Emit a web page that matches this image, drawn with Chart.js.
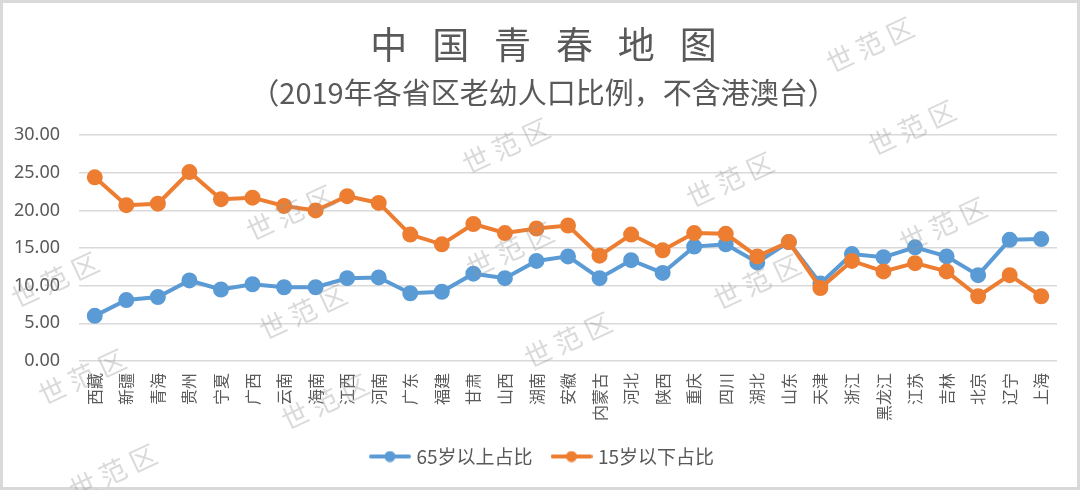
<!DOCTYPE html>
<html>
<head>
<meta charset="utf-8">
<script src="https://cdn.jsdelivr.net/npm/chart.js@4.4.1/dist/chart.umd.min.js"></script>
<style>
  html, body { margin: 0; padding: 0; background: #fff; }
  #wrap { width: 1080px; height: 490px; }
</style>
</head>
<body>
<div id="wrap"><canvas id="youthChart" width="1080" height="490"></canvas></div>
<script>
const provinces = ['西藏', '新疆', '青海', '贵州', '宁夏', '广西', '云南', '海南', '江西', '河南',
  '广东', '福建', '甘肃', '山西', '湖南', '安徽', '内蒙古', '河北', '陕西', '重庆',
  '四川', '湖北', '山东', '天津', '浙江', '黑龙江', '江苏', '吉林', '北京', '辽宁', '上海'];
const over65 = [6.0, 8.1, 8.5, 10.7, 9.5, 10.2, 9.8, 9.8, 11.0, 11.1,
  9.0, 9.2, 11.6, 11.0, 13.3, 13.9, 11.0, 13.4, 11.7, 15.2,
  15.5, 13.1, 15.8, 10.3, 14.2, 13.8, 15.1, 13.9, 11.4, 16.1, 16.2];
const under15 = [24.4, 20.7, 20.9, 25.1, 21.5, 21.7, 20.6, 20.0, 21.9, 21.0,
  16.8, 15.5, 18.2, 17.0, 17.6, 18.0, 14.0, 16.8, 14.7, 17.0,
  16.9, 13.9, 15.8, 9.7, 13.3, 11.9, 13.0, 11.9, 8.6, 11.4, 8.6];
const yTicks = [0, 5, 10, 15, 20, 25, 30];

const BLUE = '#5B9BD5';
const ORANGE = '#ED7D31';
const GREY_TEXT = '#595959';
const CJK = "'Noto Sans CJK SC', 'Noto Sans', sans-serif";

// legend marker: short line with a dot in the middle
function legendMarker(color) {
  const c = document.createElement('canvas');
  c.width = 42; c.height = 12;
  const g = c.getContext('2d');
  g.strokeStyle = color;
  g.lineWidth = 4;
  g.lineCap = 'round';
  g.beginPath(); g.moveTo(2, 6); g.lineTo(40, 6); g.stroke();
  g.fillStyle = color;
  g.beginPath(); g.arc(21, 6, 5.5, 0, Math.PI * 2); g.fill();
  return c;
}

// background + outer border
const frame = {
  id: 'frame',
  beforeDraw(chart) {
    const ctx = chart.ctx;
    ctx.save();
    ctx.fillStyle = '#fff';
    ctx.fillRect(0, 0, chart.width, chart.height);
    ctx.strokeStyle = '#d9d9d9';
    ctx.lineWidth = 3;
    ctx.strokeRect(1.5, 1.5, chart.width - 3, chart.height - 3);
    ctx.restore();
  }
};

// titles and legend sit a little right of the canvas centre in the original
const nudge = {
  id: 'nudge',
  afterLayout(chart) {
    chart.boxes.forEach(b => {
      if (!(b instanceof Chart.Scale)) { b.left += 8; b.right += 8; }
    });
  }
};

// watermark text scattered over the picture
const marks = [[870, 45], [506, 146], [912, 128], [730, 180], [290, 213], [943, 225],
  [55, 280], [510, 250], [757, 282], [303, 312], [568, 340], [82, 377], [325, 402], [113, 472]];
const watermark = {
  id: 'watermark',
  afterDraw(chart) {
    const ctx = chart.ctx;
    ctx.save();
    ctx.fillStyle = 'rgba(150,150,150,0.35)';
    ctx.font = '27px ' + CJK;
    ctx.textAlign = 'center';
    ctx.textBaseline = 'middle';
    marks.forEach(([x, y]) => {
      ctx.save();
      ctx.translate(x, y);
      ctx.rotate(-25 * Math.PI / 180);
      ctx.fillText('世 范 区', 0, 0);
      ctx.restore();
    });
    ctx.restore();
  }
};

const ctx = document.getElementById('youthChart').getContext('2d');
const youthChart = new Chart(ctx, {
  type: 'line',
  data: {
    labels: provinces,
    datasets: [
      {
        label: '65岁以上占比',
        data: over65,
        borderColor: BLUE,
        backgroundColor: BLUE,
        borderWidth: 4,
        pointRadius: 6,
        pointHoverRadius: 6,
        tension: 0,
        order: 1
      },
      {
        label: '15岁以下占比',
        data: under15,
        borderColor: ORANGE,
        backgroundColor: ORANGE,
        borderWidth: 4,
        pointRadius: 6,
        pointHoverRadius: 6,
        tension: 0,
        order: 0
      }
    ]
  },
  options: {
    responsive: false,
    animation: false,
    layout: { padding: { left: 14, right: 23, top: 0, bottom: 14 } },
    plugins: {
      title: {
        display: true,
        text: '中   国   青   春   地   图',
        color: GREY_TEXT,
        font: { family: CJK, size: 37, weight: 'normal' },
        padding: { top: 23, bottom: 8 }
      },
      subtitle: {
        display: true,
        text: '（2019年各省区老幼人口比例，不含港澳台）',
        color: GREY_TEXT,
        font: { family: CJK, size: 29, weight: 'normal' },
        padding: { top: 0, bottom: 25 }
      },
      legend: {
        position: 'bottom',
        labels: {
          usePointStyle: true,
          pointStyleWidth: 34,
          color: GREY_TEXT,
          font: { family: CJK, size: 19 },
          padding: 22,
          sort: (a, b) => a.datasetIndex - b.datasetIndex,
          generateLabels(chart) {
            const items = Chart.defaults.plugins.legend.labels.generateLabels(chart);
            items.forEach(it => {
              it.pointStyle = legendMarker(it.datasetIndex === 0 ? BLUE : ORANGE);
            });
            return items;
          }
        }
      },
      tooltip: { enabled: false }
    },
    scales: {
      x: {
        offset: true,
        grid: { display: false },
        border: { display: false },
        ticks: {
          autoSkip: false,
          maxRotation: 90,
          minRotation: 90,
          color: GREY_TEXT,
          padding: 4,
          font: { family: CJK, size: 16 }
        }
      },
      y: {
        min: 0,
        max: 30,
        afterBuildTicks(axis) { axis.ticks = yTicks.map(v => ({ value: v })); },
        afterFit(axis) { axis.width = 65; },
        grid: { color: '#d9d9d9', lineWidth: 1.5, drawTicks: false },
        border: { display: false },
        ticks: {
          color: GREY_TEXT,
          padding: 19,
          font: { family: "'Noto Sans', sans-serif", size: 18 },
          callback: v => v.toFixed(2)
        }
      }
    }
  },
  plugins: [frame, nudge, watermark]
});
</script>
</body>
</html>
